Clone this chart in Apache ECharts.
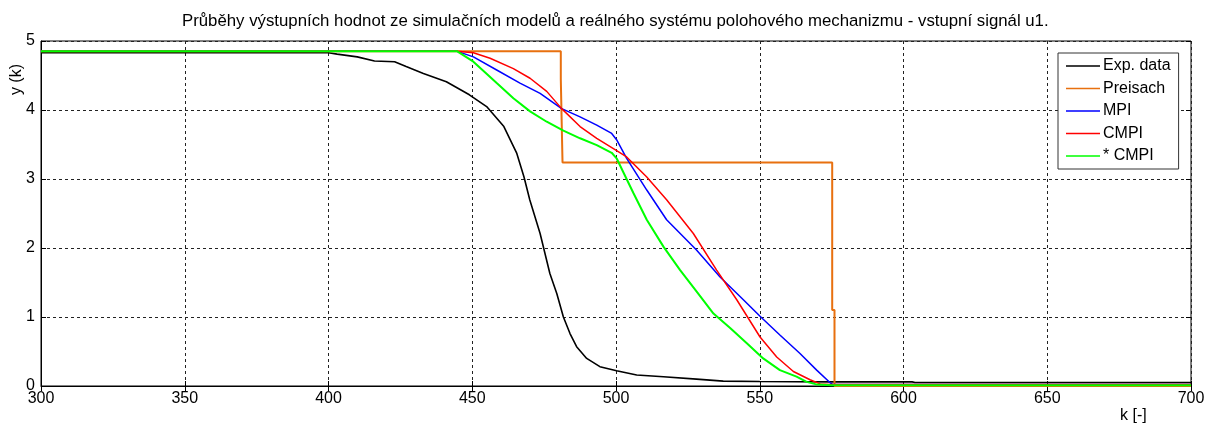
<!DOCTYPE html>
<html lang="cs">
<head>
    <meta charset="UTF-8">
    <title>Průběhy výstupních hodnot</title>
    <script src="https://cdn.jsdelivr.net/npm/echarts@6/dist/echarts.min.js"></script>
</head>
<body style="margin:0;background:#fff;">
<div id="main" style="width:1208px;height:426px;"></div>
<script type="text/javascript">
    // x values (k) and y values for each curve
    var expK = [300, 400, 403, 410, 416, 423, 427, 433, 441, 449, 455, 461, 465.5, 468, 470, 473.6, 477, 479.4, 481.7, 484, 486.3, 489.8, 494.4, 500.2, 507.2, 516.5, 528, 537.3, 550, 575, 603, 604, 700];
    var expY = [4.83, 4.83, 4.81, 4.77, 4.71, 4.70, 4.63, 4.53, 4.41, 4.22, 4.05, 3.76, 3.37, 3.03, 2.70, 2.21, 1.63, 1.34, 1.00, 0.76, 0.57, 0.40, 0.28, 0.22, 0.16, 0.135, 0.10, 0.07, 0.065, 0.06, 0.06, 0.05, 0.05];

    var preK = [300, 480.8, 480.8, 481.4, 481.4, 575.2, 575.2, 576, 576, 700];
    var preY = [4.85, 4.85, 4.45, 4.45, 3.24, 3.24, 1.1, 1.1, 0.0, 0.0];

    var mpiK = [300, 444.8, 450.4, 458.5, 466.6, 473.6, 481.1, 487.5, 493.3, 498.5, 500.2, 503.7, 510.7, 517.6, 528, 536.2, 544.3, 550.1, 557, 564, 569.8, 574.4, 575.5, 700];
    var mpiY = [4.85, 4.85, 4.77, 4.58, 4.39, 4.24, 4.02, 3.90, 3.78, 3.66, 3.57, 3.30, 2.84, 2.41, 1.97, 1.58, 1.25, 1.01, 0.74, 0.47, 0.23, 0.05, 0.02, 0.02];

    var cmpiK = [300, 444.8, 450.4, 456.2, 464.3, 470.1, 475.9, 481.1, 487.5, 493.3, 499.1, 503.7, 510.7, 517.6, 526.9, 535, 542, 550.1, 555.9, 561.7, 567.5, 571, 574.4, 700];
    var cmpiY = [4.85, 4.85, 4.83, 4.75, 4.60, 4.46, 4.27, 4.02, 3.76, 3.59, 3.44, 3.32, 3.03, 2.70, 2.21, 1.68, 1.25, 0.71, 0.42, 0.21, 0.09, 0.03, 0.02, 0.02];

    var scmpiK = [300, 444.8, 450.4, 458.5, 464.3, 470.1, 475.9, 481.7, 487.5, 493.3, 498.5, 500.2, 506, 510.7, 516.5, 522.3, 528, 533.9, 539.7, 545.5, 551.2, 557, 562.8, 566.3, 570, 575, 700];
    var scmpiY = [4.85, 4.85, 4.70, 4.39, 4.17, 3.98, 3.83, 3.70, 3.59, 3.49, 3.38, 3.30, 2.80, 2.41, 2.02, 1.68, 1.37, 1.05, 0.84, 0.62, 0.40, 0.23, 0.135, 0.06, 0.02, 0.01, 0.01];

    var seriesNames = ['Exp. data', 'Preisach', 'MPI', 'CMPI', '* CMPI'];
    var seriesColors = ['#000000', '#E8700F', '#0000FF', '#FF0000', '#00FF00'];

    function zip(xs, ys) {
        var out = [];
        for (var i = 0; i < xs.length; ++i)
            out.push([xs[i], ys[i]]);
        return out;
    }

    var font = 'Liberation Sans, Arial, sans-serif';
    var gridLine = {show: true, lineStyle: {color: '#222', width: 1, type: [3, 3]}};
    // thin horizontal bar as legend icon (tiny corner dots keep the bbox 10 x 14)
    var lineIcon = 'path://M0,0H0.01V0.01H0Z M0,6.3H10V7.7H0Z M0,13.99H0.01V14H0Z';

    var myChart = echarts.init(document.getElementById('main'));
    var option = {
        animation: false,
        backgroundColor: '#fff',
        title: {
            text: 'Průběhy výstupních hodnot ze simulačních modelů a reálného systému polohového mechanizmu - vstupní signál u1.',
            left: 182,
            top: 13,
            padding: 0,
            textStyle: {fontFamily: font, fontSize: 16.8, fontWeight: 'normal', color: '#000'}
        },
        legend: {
            orient: 'vertical',
            left: 1058,
            top: 53,
            padding: [5, 8, 5, 8],
            itemGap: 6.5,
            itemWidth: 34,
            itemHeight: 14,
            icon: lineIcon,
            symbolKeepAspect: false,
            backgroundColor: '#fff',
            borderColor: '#333',
            borderWidth: 1,
            borderRadius: 0,
            textStyle: {fontFamily: font, fontSize: 16, color: '#000', padding: [0, 0, 0, -2]},
            data: seriesNames
        },
        grid: {
            left: 41, right: 17, top: 41, bottom: 40,
            show: true, borderColor: '#000', borderWidth: 1
        },
        graphic: [
            {type: 'text', left: 9, top: 64, rotation: Math.PI / 2,
             style: {text: 'y (k)', fontFamily: font, fontSize: 16, fill: '#000'}},
            {type: 'text', left: 1120, top: 408,
             style: {text: 'k [-]', fontFamily: font, fontSize: 16, fill: '#000'}}
        ],
        xAxis: [{
            type: 'value', min: 300, max: 700, interval: 50,
            axisLine: {show: true, onZero: false, lineStyle: {color: '#000'}},
            axisTick: {show: true, inside: true, length: 5, lineStyle: {color: '#000'}},
            axisLabel: {fontFamily: font, fontSize: 16, color: '#000', margin: 5},
            splitLine: gridLine
        }, {
            type: 'value', position: 'top', min: 300, max: 700, interval: 50,
            axisLine: {show: false},
            axisTick: {show: true, inside: true, length: 5, lineStyle: {color: '#000'}},
            axisLabel: {show: false},
            splitLine: {show: false}
        }],
        yAxis: [{
            type: 'value', min: 0, max: 5, interval: 1,
            axisLine: {show: true, onZero: false, lineStyle: {color: '#000'}},
            axisTick: {show: true, inside: true, length: 5, lineStyle: {color: '#000'}},
            axisLabel: {fontFamily: font, fontSize: 16, color: '#000', margin: 6},
            splitLine: gridLine
        }, {
            type: 'value', position: 'right', min: 0, max: 5, interval: 1,
            axisLine: {show: false},
            axisTick: {show: true, inside: true, length: 5, lineStyle: {color: '#000'}},
            axisLabel: {show: false},
            splitLine: {show: false}
        }],
        series: [
            {name: seriesNames[0], type: 'line', symbol: 'none', data: zip(expK, expY),
             lineStyle: {color: seriesColors[0], width: 1.6}, itemStyle: {color: seriesColors[0]}},
            {name: seriesNames[1], type: 'line', symbol: 'none', data: zip(preK, preY),
             lineStyle: {color: seriesColors[1], width: 2}, itemStyle: {color: seriesColors[1]}},
            {name: seriesNames[2], type: 'line', symbol: 'none', data: zip(mpiK, mpiY),
             lineStyle: {color: seriesColors[2], width: 1.5}, itemStyle: {color: seriesColors[2]}},
            {name: seriesNames[3], type: 'line', symbol: 'none', data: zip(cmpiK, cmpiY),
             lineStyle: {color: seriesColors[3], width: 1.5}, itemStyle: {color: seriesColors[3]}},
            {name: seriesNames[4], type: 'line', symbol: 'none', data: zip(scmpiK, scmpiY),
             lineStyle: {color: seriesColors[4], width: 2}, itemStyle: {color: seriesColors[4]}}
        ]
    };
    myChart.setOption(option);
</script>
</body>
</html>
